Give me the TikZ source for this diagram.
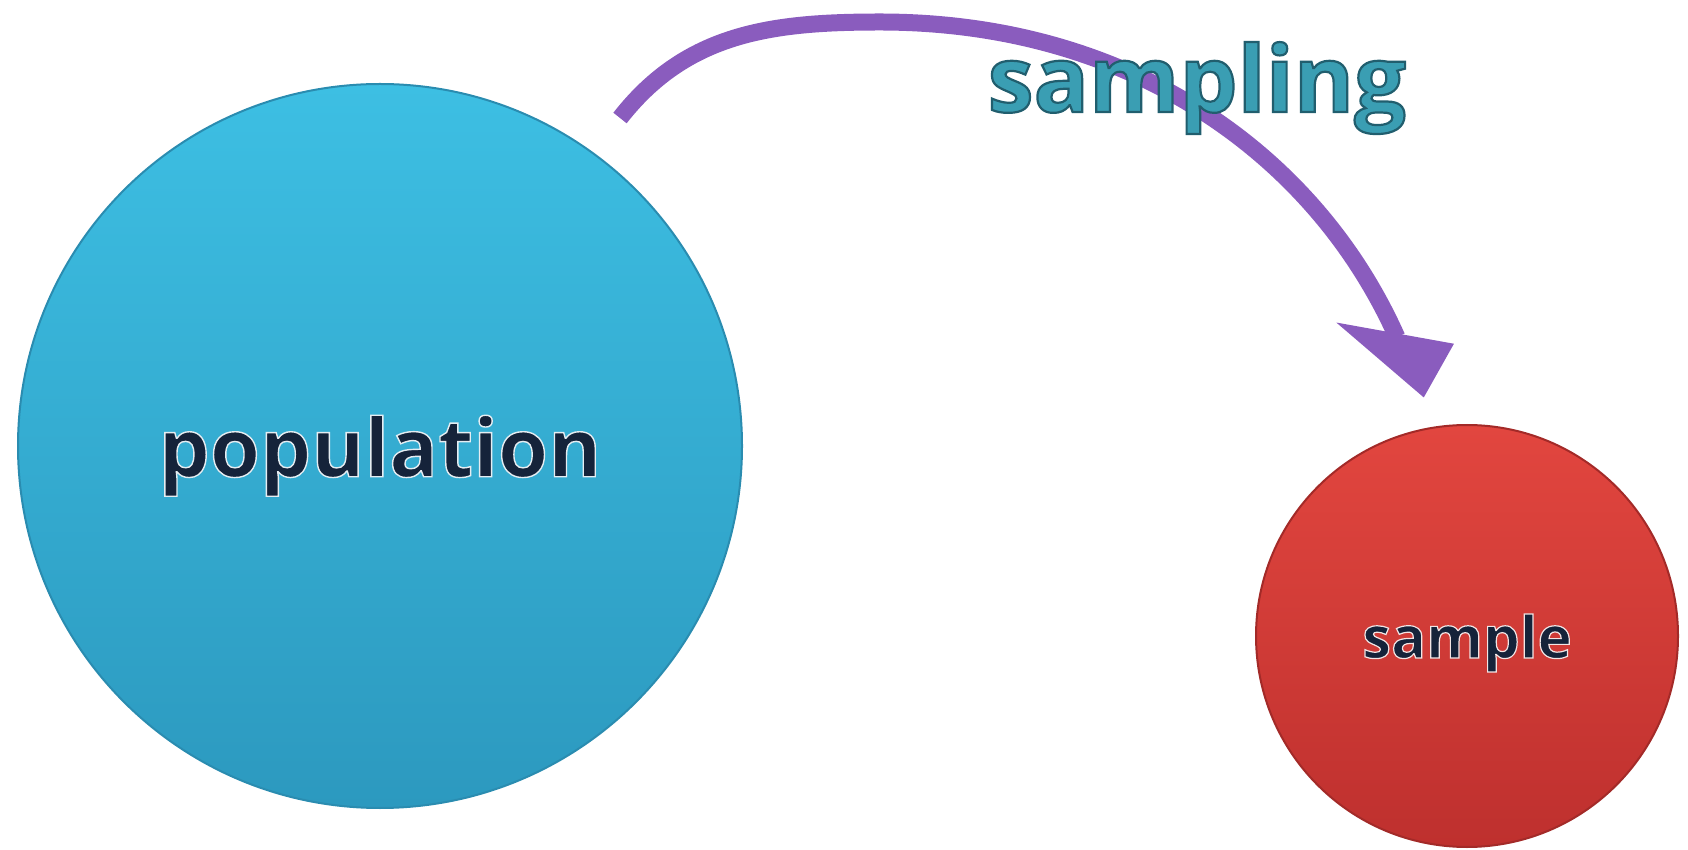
\documentclass[tikz,border=0pt]{standalone}
\usepackage{fontspec}
\setmainfont{Open Sans}
\usetikzlibrary{arrows.meta,positioning}
\definecolor{popTop}{HTML}{3DBFE3}
\definecolor{popBot}{HTML}{2C99BF}
\definecolor{popRim}{HTML}{2A8CB0}
\definecolor{smpTop}{HTML}{E2463F}
\definecolor{smpBot}{HTML}{BE302E}
\definecolor{smpRim}{HTML}{A32A28}
\definecolor{arrPurple}{HTML}{8A5CBE}
\definecolor{inkNavy}{HTML}{15233A}
\definecolor{inkTeal}{HTML}{3A9EB3}
% text drawn with a coloured rim: {stroke rgb}{width}{text}
\newcommand{\rimtext}[3]{\special{pdf:literal q 2 Tr #2 w #1 RG}#3\special{pdf:literal Q}}

\begin{document}
\begin{tikzpicture}[
		x=1pt, y=1pt,
		popcircle/.style={circle,draw=popRim,line width=2pt,top color=popTop,bottom color=popBot,
			minimum size=724pt,inner sep=0pt,text depth=0pt,font=\fontsize{81}{96}\selectfont\bfseries},
		smpcircle/.style={circle,draw=smpRim,line width=2pt,top color=smpTop,bottom color=smpBot,
			minimum size=422pt,inner sep=0pt,text depth=0pt,font=\fontsize{58}{70}\selectfont\bfseries},
		lbl/.style={inner sep=0pt,text depth=0pt,font=\fontsize{92}{110}\selectfont\bfseries},
		sarrow/.style={draw=arrPurple,line width=17pt,
			-{Triangle[length=71pt,width=94pt,slant=0.68]}}
	]
	\useasboundingbox (0,0) rectangle (1688,849);

	\node [popcircle]                                   (Pop) at (380,403) {\textcolor{inkNavy}{\rimtext{0.90 0.93 0.95}{1.4}{population}}} ;
	\node [smpcircle, right=512pt of Pop, yshift=-190pt] (Smp) {\textcolor{inkNavy}{\rimtext{0.95 0.90 0.90}{1.2}{sample}}} ;

	\coordinate (tail) at (620,731) ;
	\coordinate (peak) at (880,827) ;
	\coordinate (head) at (1424,451) ;
	\draw [sarrow] (tail) to[out=52,in=180] (peak) to[out=0,in=114] (head) ;

	\node [lbl] (Lbl) at (1197,772) {\textcolor{inkTeal}{\rimtext{0.13 0.37 0.43}{2.2}{sampling}}} ;
\end{tikzpicture}
\end{document}
